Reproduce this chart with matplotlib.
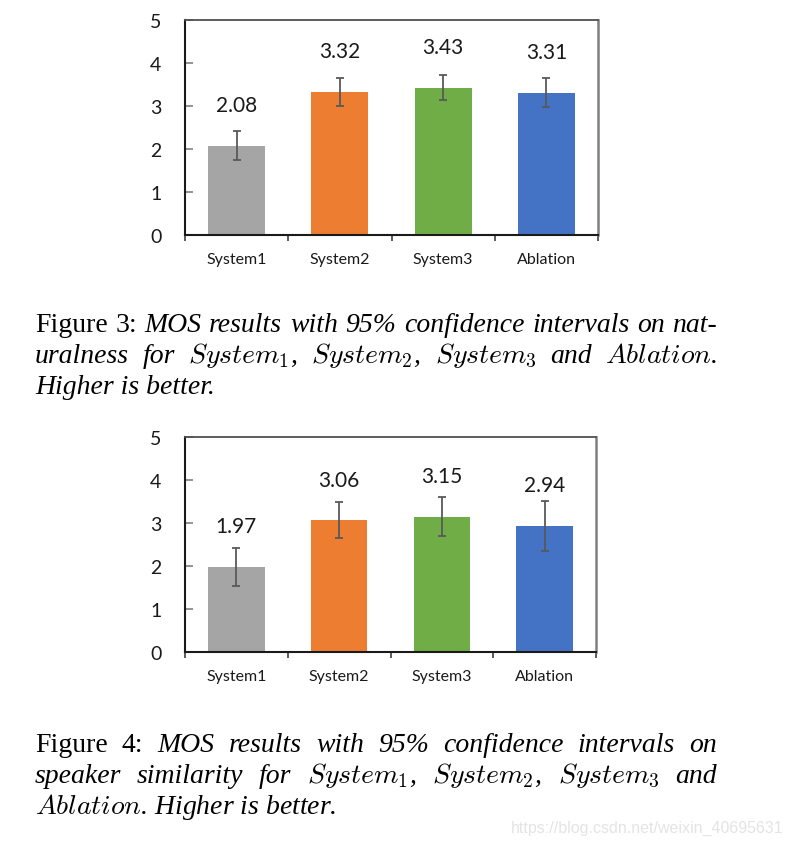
import matplotlib
matplotlib.use("Agg")
import matplotlib.pyplot as plt
from matplotlib.ticker import FixedLocator

# ---------------- data ----------------
categories = ["System1", "System2", "System3", "Ablation"]
nat_mos = [2.08, 3.32, 3.43, 3.31]
nat_ci = [0.34, 0.33, 0.29, 0.33]
sim_mos = [1.97, 3.06, 3.15, 2.94]
sim_ci = [0.44, 0.42, 0.45, 0.58]
bar_colors = ["#A5A5A5", "#ED7D31", "#70AD47", "#4472C4"]
y_ticks = [0, 1, 2, 3, 4, 5]

W, H = 789, 845
plt.rcParams['mathtext.fontset'] = 'cm'
fig = plt.figure(figsize=(W / 100, H / 100), dpi=100)
fig.patch.set_facecolor("white")

SANS = "Lato"


def make_chart(top_px, bottom_px, right_px, values, ci):
    left_px = 185
    ax = fig.add_axes([left_px / W, 1 - bottom_px / H,
                       (right_px - left_px) / W, (bottom_px - top_px) / H])
    x = list(range(len(categories)))
    ax.bar(x, values, width=0.55, color=bar_colors, zorder=2)
    ax.errorbar(x, values, yerr=ci, fmt="none", ecolor="#595959",
                elinewidth=1.3, capsize=2.7, capthick=1.3, zorder=3)
    for xi, v in zip(x, values):
        ax.text(xi, v + 0.95, f"{v:.2f}", ha="center", va="center",
                fontsize=15, family=SANS, color="#1a1a1a")
    ax.set_xlim(-0.5, len(categories) - 0.5)
    ax.set_ylim(0, 5)
    ax.set_yticks(y_ticks)
    ax.set_yticklabels([str(t) for t in y_ticks], fontsize=14, family=SANS,
                       color="#1a1a1a")
    ax.tick_params(axis="y", direction="in", length=5.5, width=1.2,
                   color="#808080", pad=17)
    ax.set_xticks(x)
    ax.set_xticklabels(categories, fontsize=11.5, family=SANS, color="#1a1a1a")
    ax.tick_params(axis="x", which="major", length=0, pad=12)
    ax.xaxis.set_minor_locator(FixedLocator([i - 0.5 for i in range(len(categories) + 1)]))
    ax.tick_params(axis="x", which="minor", direction="out", length=4.5,
                   width=1.2, color="#404040")
    ax.spines["left"].set_color("#1a1a1a")
    ax.spines["left"].set_linewidth(1.5)
    ax.spines["bottom"].set_color("#1a1a1a")
    ax.spines["bottom"].set_linewidth(1.5)
    ax.spines["top"].set_color("#505050")
    ax.spines["top"].set_linewidth(1.3)
    ax.spines["right"].set_color("#808080")
    ax.spines["right"].set_linewidth(1.8)
    return ax


make_chart(21, 236, 598, nat_mos, nat_ci)
make_chart(438, 653, 596, sim_mos, sim_ci)

renderer = fig.canvas.get_renderer()
SERIF = "Liberation Serif"
CAP_SIZE = 20
X0, X1 = 35, 717


def justified_line(words, y_px):
    texts = []
    for w, style in words:
        t = fig.text(0, 1 - y_px / H, w, fontsize=CAP_SIZE, family=SERIF,
                     fontstyle=style, va="baseline", ha="left", color="black")
        texts.append(t)
    widths = [t.get_window_extent(renderer).width for t in texts]
    gap = (X1 - X0 - sum(widths)) / (len(texts) - 1)
    xpos = X0
    for t, wd in zip(texts, widths):
        t.set_x(xpos / W)
        xpos += wd + gap


def plain_line(s, y_px):
    fig.text(X0 / W, 1 - y_px / H, s, fontsize=CAP_SIZE, family=SERIF,
             fontstyle="italic", va="baseline", ha="left", color="black")


n, i = "normal", "italic"
justified_line([("Figure", n), ("3:", n), ("MOS", i), ("results", i), ("with", i),
                ("95%", i), ("confidence", i), ("intervals", i), ("on", i),
                ("nat-", i)], 332)
justified_line([("uralness", i), ("for", i), (r"$System_1$,", i),
                (r"$System_2$,", i), (r"$System_3$", i), ("and", i),
                (r"$Ablation$.", i)], 363)
plain_line("Higher is better.", 394)

justified_line([("Figure", n), ("4:", n), ("MOS", i), ("results", i), ("with", i),
                ("95%", i), ("confidence", i), ("intervals", i), ("on", i)], 752)
justified_line([("speaker", i), ("similarity", i), ("for", i),
                (r"$System_1$,", i), (r"$System_2$,", i), (r"$System_3$", i),
                ("and", i)], 783)
plain_line(r"$Ablation$. Higher is better.", 814)

fig.text(783 / W, 1 - 833 / H, "https://blog.csdn.net/weixin_40695631",
         fontsize=11.5, family="Liberation Sans", color="#e4e4e4",
         ha="right", va="baseline")

fig.savefig("out.png", dpi=100, facecolor="white")
